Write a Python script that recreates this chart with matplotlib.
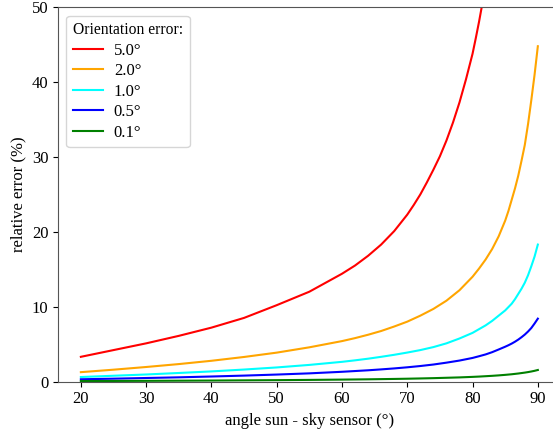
import matplotlib
matplotlib.use("Agg")
import matplotlib.pyplot as plt

plt.rcParams['font.family'] = ['Liberation Serif', 'DejaVu Serif']

# angle sun - sky sensor (deg) and relative error (%)
angle_red = [20, 25, 30, 35, 40, 45, 50, 55, 60, 62, 64, 66, 68, 70, 71, 72, 73,
             74, 75, 76, 77, 78, 79, 80, 80.5, 81, 81.5, 82]
err_red = [3.3, 4.2, 5.1, 6.1, 7.2, 8.5, 10.2, 12.0, 14.4, 15.5, 16.8, 18.3, 20.1,
           22.3, 23.6, 25.0, 26.6, 28.3, 30.1, 32.2, 34.6, 37.3, 40.4, 43.8, 45.9,
           48.1, 50.5, 53.0]

angle = [20, 25, 30, 35, 40, 45, 50, 55, 60, 62, 64, 66, 68, 70, 72, 74, 76, 78,
         80, 81, 82, 83, 84, 85, 85.5, 86, 86.5, 87, 87.5, 88, 88.5, 89, 89.5, 90]
err_2 = [1.25, 1.58, 1.94, 2.33, 2.77, 3.28, 3.86, 4.57, 5.40, 5.8, 6.25, 6.75,
         7.35, 8.0, 8.8, 9.7, 10.8, 12.2, 14.0, 15.1, 16.3, 17.7, 19.4, 21.5, 22.8,
         24.3, 25.8, 27.5, 29.5, 31.6, 34.4, 37.6, 41.0, 44.8]
err_1 = [0.60, 0.77, 0.94, 1.14, 1.35, 1.60, 1.88, 2.22, 2.63, 2.83, 3.05, 3.3,
         3.57, 3.87, 4.2, 4.6, 5.1, 5.75, 6.5, 7.0, 7.5, 8.1, 8.8, 9.5, 9.95, 10.4,
         11.0, 11.7, 12.4, 13.2, 14.2, 15.4, 16.7, 18.3]
err_05 = [0.30, 0.38, 0.47, 0.56, 0.67, 0.79, 0.93, 1.09, 1.30, 1.40, 1.50, 1.62,
          1.75, 1.90, 2.07, 2.27, 2.52, 2.8, 3.15, 3.38, 3.62, 3.92, 4.28, 4.65,
          4.85, 5.07, 5.32, 5.6, 5.92, 6.27, 6.68, 7.15, 7.75, 8.4]
err_01 = [0.06, 0.075, 0.092, 0.11, 0.13, 0.156, 0.183, 0.216, 0.256, 0.275, 0.295,
          0.32, 0.345, 0.374, 0.41, 0.45, 0.5, 0.55, 0.62, 0.66, 0.71, 0.76, 0.82,
          0.89, 0.93, 0.97, 1.02, 1.07, 1.13, 1.19, 1.26, 1.34, 1.43, 1.54]

fig = plt.figure(figsize=(5.53, 4.33), dpi=100)
ax = fig.add_axes([0.1049, 0.1189, 0.909, 0.8642])

ax.plot(angle_red, err_red, color='red', lw=1.5, label='5.0°')
ax.plot(angle, err_2, color='orange', lw=1.5, label='2.0°')
ax.plot(angle, err_1, color='cyan', lw=1.5, label='1.0°')
ax.plot(angle, err_05, color='blue', lw=1.5, label='0.5°')
ax.plot(angle, err_01, color='green', lw=1.5, label='0.1°')

ax.set_xlim(16.5, 93.5)
ax.set_ylim(0, 50)
ax.set_xticks([20, 30, 40, 50, 60, 70, 80, 90])
ax.set_yticks([0, 10, 20, 30, 40, 50])
ax.tick_params(labelsize=12)
for s in ax.spines.values():
    s.set_color('#555555')
ax.set_xlabel('angle sun - sky sensor (°)', fontsize=12)
ax.set_ylabel('relative error (%)', fontsize=12)
ax.legend(title='Orientation error:', loc='upper left', fontsize=12,
          title_fontsize=11.2, alignment='left', labelspacing=0.27,
          handlelength=1.8, handletextpad=0.65)

fig.savefig('out.png', dpi=100)
